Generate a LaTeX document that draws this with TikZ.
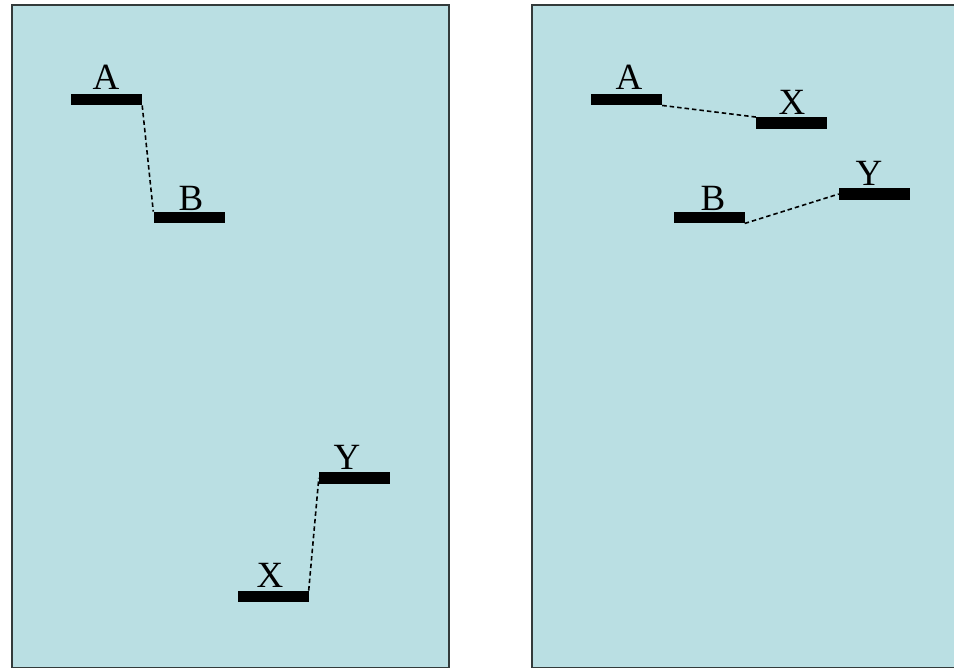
\documentclass[tikz,border=0pt]{standalone}
\usepackage{fontspec}
\setmainfont{Liberation Serif}
\definecolor{panelblue}{HTML}{BADFE3}
\definecolor{frame}{HTML}{333B3B}
\tikzset{
  panel/.style={fill=panelblue, draw=frame, line width=2pt},
  level/.style={fill=black, draw=none, inner sep=0pt, minimum width=71pt, minimum height=11.5pt},
  lab/.style={anchor=base, inner sep=0pt, font=\fontsize{37}{42}\selectfont},
  link/.style={line width=1.6pt, dash pattern=on 4.5pt off 3pt}
}
\begin{document}
\begin{tikzpicture}[x=1pt, y=-1pt]
\useasboundingbox (0,0) rectangle (954,668);
\fill[white] (0,0) rectangle (954,668);

% two panels
\draw[panel] (12,5) rectangle (449,667.5);
\draw[panel] (532,5) rectangle (960,667.5);

% left panel: levels
\node[level] (lA) at (106.5,99.5) {};
\node[level] (lB) at (189,217.5) {};
\node[level] (lY) at (354.5,478) {};
\node[level] (lX) at (273,596.5) {};
\node[lab] at (106,89.5) {A};
\node[lab] at (191,210.5) {B};
\node[lab] at (347,469.5) {Y};
\node[lab] at (270,587.5) {X};
\draw[link] (lA.south east) -- (lB.north west);
\draw[link] (lX.north east) -- (lY.west);

% right panel: levels
\node[level] (rA) at (626.5,99.5) {};
\node[level] (rX) at (791.5,123) {};
\node[level] (rB) at (709,217.5) {};
\node[level] (rY) at (874.5,194) {};
\node[lab] at (629,89.5) {A};
\node[lab] at (792,114.5) {X};
\node[lab] at (713,210.5) {B};
\node[lab] at (869,185.5) {Y};
\draw[link] (rA.south east) -- (rX.north west);
\draw[link] (rB.south east) -- (rY.west);
\end{tikzpicture}
\end{document}
